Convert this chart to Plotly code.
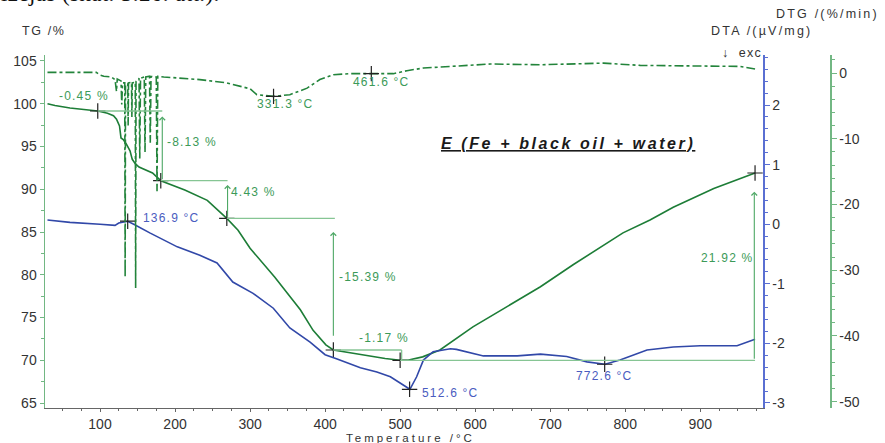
import plotly.graph_objects as go

# ---------------- data ----------------
TG_T = [30, 40, 60, 80, 97, 110, 118, 122, 126, 128, 131, 135, 140, 143, 147, 152, 160, 170, 181,
        200, 213, 243, 269, 284, 300, 333, 367, 384, 401, 411, 450, 480, 500, 510, 530, 553, 597,
        642, 687, 731, 776, 797, 833, 864, 918, 973]
TG_V = [100.0, 99.8, 99.5, 99.35, 99.15, 98.9, 98.6, 98.2, 97.4, 96.0, 95.8, 95.3, 94.5, 93.5, 93.0,
        92.6, 92.3, 91.9, 91.0, 90.4, 89.9, 88.7, 86.6, 85.2, 83.1, 79.7, 75.9, 73.5, 71.8, 71.2,
        70.6, 70.2, 70.0, 70.0, 70.4, 71.2, 73.9, 76.2, 78.6, 81.2, 83.7, 84.9, 86.4, 87.9, 90.1, 91.9]

DTA_T = [30, 60, 100, 120, 125, 137, 145, 167, 203, 233, 256, 277, 304, 331, 353, 380, 400, 416,
         447, 469, 487, 500, 513, 522, 531, 544, 567, 575, 611, 656, 687, 722, 749, 773, 793, 829,
         864, 900, 949, 973]
DTA_V = [0.07, 0.03, 0.0, -0.02, 0.02, 0.05, 0.0, -0.15, -0.38, -0.52, -0.65, -0.97, -1.16, -1.41,
         -1.74, -1.98, -2.19, -2.26, -2.41, -2.48, -2.56, -2.66, -2.77, -2.56, -2.28, -2.14, -2.09,
         -2.10, -2.21, -2.21, -2.18, -2.22, -2.31, -2.35, -2.28, -2.11, -2.06, -2.04, -2.04, -1.93]

DTG_T = [30, 60, 95, 100, 105, 115, 120, 122, 123, 128, 129, 130, 133, 133.5, 134, 137, 137.5, 138,
         142, 142.5, 143, 147, 147.5, 148, 152, 153, 154, 159, 160, 161, 166, 167, 168, 175, 176,
         177, 185, 233, 269, 300, 309, 331, 353, 376, 393, 411, 433, 463, 491, 509, 531, 567, 620,
         687, 771, 820, 909, 953, 973]
DTG_V = [0.1, 0.1, 0.1, -0.3, -0.5, -0.6, -1.0, -2.8, -0.9, -1.2, -4.8, -1.5, -1.5, -31.0, -1.8,
         -1.6, -8.0, -1.5, -1.4, -6.7, -1.5, -1.4, -32.7, -1.3, -0.8, -13.0, -0.8, -0.6, -12.0, -0.6,
         -0.5, -10.6, -0.5, -0.6, -18.0, -0.5, -0.6, -1.0, -1.5, -2.4, -3.3, -3.56, -3.3, -2.3, -1.0,
         -0.26, -0.1, -0.1, -0.1, 0.35, 0.76, 1.0, 1.37, 1.26, 1.5, 1.16, 1.0, 1.0, 0.6]

# step markers on the TG curve
STEP_T = [97, 181, 269, 411, 500, 973]
STEP_TG = [99.15, 91.0, 86.6, 71.2, 70.0, 91.9]
STEP_LABELS = ["-0.45 %", "-8.13 %", "4.43 %", "-15.39 %", "-1.17 %", "21.92 %"]

DTA_PEAK_T = [136.9, 512.6, 772.6]
DTA_PEAK_V = [0.05, -2.77, -2.35]
DTG_PEAK_T = [331.3, 461.6]
DTG_PEAK_V = [-3.56, -0.1]

X_TICKS = [100, 200, 300, 400, 500, 600, 700, 800, 900]
TG_TICKS = [65, 70, 75, 80, 85, 90, 95, 100, 105]
DTA_TICKS = [-3, -2, -1, 0, 1, 2]
DTG_TICKS = [-50, -40, -30, -20, -10, 0]

# ---------------- styling ----------------
TG_COL = "#1d7d37"
DTG_COL = "#23843b"
DTA_COL = "#3148a8"
ANN_GREEN = "#86c594"
ARROW_GREEN = "#4ea866"
AX_GREEN = "#72b783"
AX_BLUE = "#5a6fd2"
TXT_GREEN = "#3c9a58"
TXT_BLUE = "#4a5cc0"
FONT = "Liberation Sans, Arial, sans-serif"

def lab(v):
    return str(v)

fig = go.Figure()

fig.add_trace(go.Scatter(x=TG_T, y=TG_V, mode="lines", line=dict(color=TG_COL, width=1.6),
                         yaxis="y", hoverinfo="skip"))
fig.add_trace(go.Scatter(x=DTG_T, y=DTG_V, mode="lines",
                         line=dict(color=DTG_COL, width=1.6, dash="dashdot"),
                         yaxis="y3", hoverinfo="skip"))
fig.add_trace(go.Scatter(x=DTA_T, y=DTA_V, mode="lines", line=dict(color=DTA_COL, width=1.6),
                         yaxis="y2", hoverinfo="skip"))

cross = dict(symbol="cross-thin", size=11, line=dict(color="#222", width=1.2))
fig.add_trace(go.Scatter(x=STEP_T, y=STEP_TG, mode="markers", marker=cross, yaxis="y",
                         hoverinfo="skip"))
fig.add_trace(go.Scatter(x=DTA_PEAK_T, y=DTA_PEAK_V, mode="markers", marker=cross, yaxis="y2",
                         hoverinfo="skip"))
fig.add_trace(go.Scatter(x=DTG_PEAK_T, y=DTG_PEAK_V, mode="markers", marker=cross, yaxis="y3",
                         hoverinfo="skip"))

# step-evaluation guide lines (light green), derived from step values
shapes = []
def hline(x0, x1, y):
    shapes.append(dict(type="line", xref="x", yref="y", x0=x0, x1=x1, y0=y, y1=y,
                       line=dict(color=ANN_GREEN, width=1.3)))
def vline(x, y0, y1):
    shapes.append(dict(type="line", xref="x", yref="y", x0=x, x1=x, y0=y0, y1=y1,
                       line=dict(color=ANN_GREEN, width=1.3)))

hline(STEP_T[0], STEP_T[1] + 2, STEP_TG[0])
hline(STEP_T[1], STEP_T[2] + 1, STEP_TG[1])
hline(STEP_T[2], STEP_T[3] + 2, STEP_TG[2])
hline(STEP_T[3], STEP_T[4] + 2, STEP_TG[3])
vline(STEP_T[4] + 2, STEP_TG[4], STEP_TG[3])
hline(STEP_T[4], STEP_T[5], STEP_TG[4])

annotations = []
def arrow(x, y_from, y_to):
    annotations.append(dict(x=x, y=y_to, ax=x, ay=y_from, xref="x", yref="y", axref="x",
                            ayref="y", text="", showarrow=True, arrowhead=4, arrowsize=1.0,
                            arrowwidth=1.1, arrowcolor=ARROW_GREEN))

arrow(STEP_T[1] + 2, STEP_TG[1], 98.5)
arrow(STEP_T[2] + 1, STEP_TG[2], 90.5)
arrow(STEP_T[3], 72.7, 85.0)
arrow(STEP_T[5] - 1, STEP_TG[4], 89.7)

def spaced(t, sp=1):
    return f'<span style="letter-spacing:{sp}px">{t}</span>'

def dlabel(x, y, t, col, size=12, sp=1.2):
    annotations.append(dict(x=x, y=y, xref="x", yref="y", text=spaced(t, sp), showarrow=False,
                            font=dict(family=FONT, size=size, color=col)))

step_label_pos = [(79, 100.9), (223, 95.5), (305, 89.7), (457, 79.7), (479, 72.6), (936, 82.0)]
for (lx, ly), t in zip(step_label_pos, STEP_LABELS):
    dlabel(lx, ly, t, TXT_GREEN)

dlabel(195, 86.6, f"{DTA_PEAK_T[0]} °C", TXT_BLUE)
dlabel(567, 66.2, f"{DTA_PEAK_T[1]} °C", TXT_BLUE)
dlabel(772, 68.2, f"{DTA_PEAK_T[2]} °C", TXT_BLUE)
dlabel(347, 100.0, f"{DTG_PEAK_T[0]} °C", TXT_GREEN)
dlabel(475, 102.5, f"{DTG_PEAK_T[1]} °C", TXT_GREEN)

# title inside plot
annotations.append(dict(x=724, y=95.3, xref="x", yref="y", showarrow=False,
                        text="<b><i><u>" + spaced("E (Fe + black oil + water)", 2.6) + "</u></i></b>",
                        font=dict(family=FONT, size=16, color="#1a1a1a")))

# layout geometry (body margin removed by post_script, so figure fills the window)
W, H = 885, 443
PLOT_L, PLOT_R, PLOT_T, PLOT_B = 45, 763, 55, 408      # plot box in window pixels
L, T = PLOT_L, PLOT_T
R = 45
B = H - PLOT_B
PW, PH = W - L - R, (PLOT_B - PLOT_T)

def px(xp):
    return (xp - PLOT_L) / PW
def py(yp):
    return (PLOT_B - yp) / PH

def plabel(xp, yp, t, xanchor, size=12.5, sp=2.2, family=FONT, col="#333"):
    annotations.append(dict(x=px(xp), y=py(yp), xref="paper", yref="paper", text=spaced(t, sp),
                            showarrow=False, xanchor=xanchor, yanchor="middle",
                            font=dict(family=family, size=size, color=col)))

plabel(20, 31, "TG /%", "left", sp=1.6)
plabel(814, 31, "DTA /(µV/mg)", "right")
plabel(881, 14, "DTG /(%/min)", "right")
plabel(764, 53, "↓  exc", "right", sp=1.2)
plabel(410, 437.5, "Temperature /°C", "center", size=11.5, sp=3.0)
plabel(-1, -6.5, "izējas (skat. 3.26. att.).", "left", size=23, sp=0.4,
       family="Liberation Serif, serif", col="#111")

x_end = px(PLOT_R)
fig.update_layout(
    width=W, height=H, margin=dict(l=L, r=R, t=T, b=B),
    paper_bgcolor="white", plot_bgcolor="white", showlegend=False, hovermode=False,
    shapes=shapes, annotations=annotations,
    font=dict(family=FONT, size=14, color="#333"),
    xaxis=dict(domain=[0, x_end], range=[26.7, 983.6], showgrid=False, zeroline=False,
               showline=True, linecolor="#666", linewidth=1, ticks="outside", ticklen=3,
               tickcolor="#666", tickmode="array", tickvals=X_TICKS,
               ticktext=[lab(v) for v in X_TICKS],
               minor=dict(dtick=25, tick0=0, ticks="outside", ticklen=2, tickcolor="#666"),
               tickfont=dict(size=14, color="#333")),
    yaxis=dict(range=[64.42, 105.7], showgrid=False, zeroline=False, showline=True,
               linecolor=AX_GREEN, linewidth=1.5, ticks="outside", ticklen=4, tickcolor=AX_GREEN,
               tickmode="array", tickvals=TG_TICKS, ticktext=[lab(v) for v in TG_TICKS],
               minor=dict(dtick=2.5, tick0=0, ticks="outside", ticklen=3, tickcolor=AX_GREEN),
               tickfont=dict(size=14, color="#333")),
    yaxis2=dict(overlaying="y", side="right", anchor="x", range=[-3.084, 2.839], showgrid=False,
                zeroline=False, showline=True, linecolor=AX_BLUE, linewidth=1.5, ticks="outside",
                ticklen=5, tickcolor=AX_BLUE, tickmode="array", tickvals=DTA_TICKS,
                ticktext=[lab(v) for v in DTA_TICKS],
                minor=dict(dtick=0.2, tick0=0, ticks="outside", ticklen=3, tickcolor=AX_BLUE),
                tickfont=dict(size=14, color="#333")),
    yaxis3=dict(overlaying="y", side="right", anchor="free", position=px(830),
                range=[-50.96, 2.74], showgrid=False, zeroline=False, showline=True,
                linecolor=AX_GREEN, linewidth=1.5, ticks="outside", ticklen=5,
                tickcolor=AX_GREEN, tickmode="array", tickvals=DTG_TICKS,
                ticktext=[lab(v) for v in DTG_TICKS],
                minor=dict(dtick=2, tick0=0, ticks="outside", ticklen=3, tickcolor=AX_GREEN),
                tickfont=dict(size=14, color="#333")),
)

fig.write_html("out.html", config={"displayModeBar": False, "staticPlot": True},
               post_script="document.body.style.margin='0px';"
                           "document.body.style.overflow='hidden';")
